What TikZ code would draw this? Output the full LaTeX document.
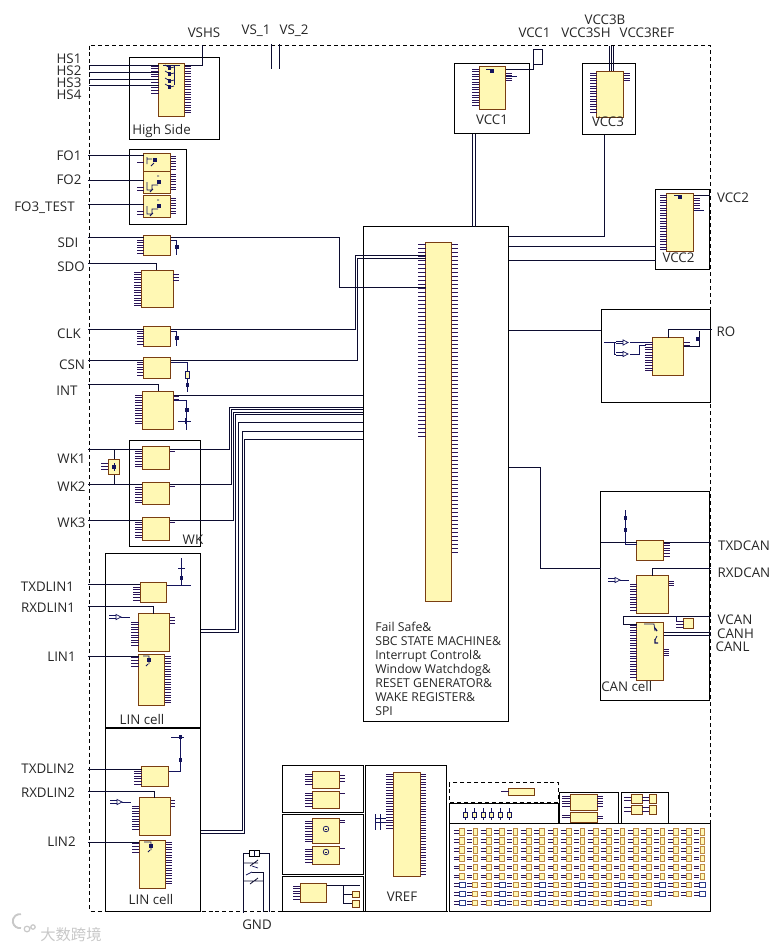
\documentclass[tikz,border=0pt]{standalone}
\usepackage{fontspec}
\setmainfont{Open Sans}
\newfontfamily\cjkwm{Noto Sans CJK SC}
\definecolor{chipfill}{HTML}{FFF8B4}
\definecolor{chipline}{HTML}{7A3E12}
\definecolor{pinline}{HTML}{2A1458}
\definecolor{sigline}{HTML}{14145C}
\definecolor{wireline}{HTML}{0C0C30}
\definecolor{gridline}{HTML}{BE8A44}
\definecolor{gridblue}{HTML}{2A3C8C}
\definecolor{wmgray}{HTML}{C8C8C8}
% box helpers, x y w h in pixels
\newcommand{\chip}[5]{\node[chipbox, minimum width=#4*0.75pt, minimum height=#5*0.75pt] (#1) at (#2,#3) {};}
\newcommand{\cellbox}[5]{\node[cell, minimum width=#4*0.75pt, minimum height=#5*0.75pt] (#1) at (#2,#3) {};}
% comb of pins, x1 x2 then first, second, last y
\newcommand{\pins}[5]{\foreach \py in {#3,#4,...,#5} \draw[pin] (#1,\py) -- (#2,\py);}
% small switch mark
\newcommand{\swmark}[2]{\fill[sigline] (#1-1.7,#2-1.7) rectangle (#1+1.7,#2+1.7);}
% input buffer
\newcommand{\bufmark}[2]{\draw[sig] (#1,#2-1.2) -- ++(7,0) (#1,#2+1.2) -- ++(7,0);
  \draw[sig, fill=white] (#1+7,#2-2.6) -- (#1+12,#2) -- (#1+7,#2+2.6) -- cycle;
  \draw[sig] (#1+12,#2) -- ++(9,0);}
\begin{document}
\begin{tikzpicture}[
  x=0.75pt, y=-0.75pt,
  cell/.style={draw=black, line width=0.75pt, anchor=north west, inner sep=0pt, outer sep=0pt},
  chipbox/.style={draw=chipline, fill=chipfill, line width=0.65pt, anchor=north west, inner sep=0pt, outer sep=0pt},
  pin/.style={pinline, line width=0.55pt},
  sig/.style={sigline, line width=0.55pt},
  wire/.style={wireline, line width=0.75pt},
  lbl/.style={font=\fontsize{10}{12}\selectfont, text=black!85, inner sep=0pt},
  frame/.style={draw=black, line width=0.75pt, dash pattern=on 3pt off 2.2pt}
]
\useasboundingbox (0,0) rectangle (783,950);

% === Outer frame ===
\draw[frame] (89.5,45.5) rectangle (710.5,911);

% === Supply labels on top ===
\node[lbl] (tVSHS) at (204,33) {VSHS};
\node[lbl] (tVSa) at (256,31) {VS\_1};
\node[lbl] (tVSb) at (294,31) {VS\_2};
\node[lbl] (tVCCa) at (534.5,33) {VCC1};
\node[lbl] (tVCCcB) at (605,20) {VCC3B};
\node[lbl] (tVCCcS) at (586,32.5) {VCC3SH};
\node[lbl] (tVCCcR) at (647,33) {VCC3REF};
\coordinate (pVSa) at (271.5,44);
\coordinate (pVSb) at (279,44);
\draw[wire] (pVSa) -- ++(0,24.5);
\draw[wire] (pVSb) -- ++(0,24.5);

% === High side ===
\cellbox{HSbox}{129.3}{57.5}{90}{81.5}
\chip{HSchip}{158.5}{63.5}{26}{53}
\pins{151}{158.5}{66}{68.7}{93}
\pins{184.5}{191}{66}{68.6}{115}
\node[lbl] (tHSa) at (69,59) {HS1};
\node[lbl] (tHSb) at (69,71) {HS2};
\node[lbl] (tHSc) at (69,83) {HS3};
\node[lbl] (tHSd) at (69,95) {HS4};
\foreach \nm/\ny in {pHSa/65.5, pHSb/72, pHSc/79, pHSd/85.5} {
  \coordinate (\nm) at (89,\ny);
  \draw[wire] (\nm) -- (\nm -| HSchip.west);
}
\coordinate (pVSHS) at (202.5,45);
\draw[wire] (pVSHS) -- (202.5,65.5) -- (HSchip.east |- 0,65.5);
\draw[sig] (180,65) -- (163,65) (174,65) -- (174,85);
\foreach \my in {68,74,81,87} {
  \draw[sig] (165,\my-3) -- (170,\my) -- (174,\my-1);
  \swmark{169.5}{\my}
}
\node[lbl, anchor=west] (tHSbox) at (132,131) {High Side};

% === FO outputs ===
\cellbox{FObox}{129.3}{149.5}{57.2}{75}
\chip{FOa}{143.5}{153.5}{27}{18}
\chip{FOb}{143.5}{171.5}{27}{22}
\chip{FOc}{143.5}{195}{27}{22.5}
\pins{170.5}{176}{156}{158.6}{170}
\pins{170.5}{176}{174}{176.6}{191}
\pins{170.5}{176}{198}{200.6}{216}
\draw[pin] (137,162.5) -- (143.5,162.5) (137,187) -- (143.5,187) (137,190) -- (143.5,190);
\draw[pin] (137,211) -- (143.5,211) (137,214) -- (143.5,214);
\node[lbl] (tFOa) at (69,156) {FO1};
\node[lbl] (tFOb) at (69,180) {FO2};
\node[lbl] (tFOc) at (44.5,208) {FO3\_TEST};
\foreach \nm/\ny/\tg in {pFOa/155.5/FOa, pFOb/180.5/FOb, pFOc/204.5/FOc} {
  \coordinate (\nm) at (88,\ny);
  \draw[wire] (\nm) -- (\nm -| \tg.west);
}
\draw[sig] (147,157) -- (147,164) (147,159) -- (152,159) (151,166) -- (154,163);
\swmark{155}{160}
\foreach \my in {182,206} {
  \draw[sig] (147,\my) -- (147,\my+8) -- (152,\my+8) -- (152,\my+3) -- (158,\my+3) (150,\my+10) -- (153,\my+7) (157,\my-6) -- (159,\my-6);
  \swmark{159}{\my}
}

% === SPI pins ===
\chip{SDIchip}{143.5}{235.5}{27}{20}
\pins{137}{143.5}{240}{242.6}{254}
\node[lbl] (tSDI) at (68,243) {SDI};
\coordinate (pSDI) at (88,237.5);
\draw[wire] (pSDI) -- (pSDI -| SDIchip.west);
\draw[sig] (170.5,240) -- (176,240) -- (176,255);
\swmark{177}{247}
\chip{SDOchip}{141}{270}{32}{37.5}
\pins{134}{141}{272}{274.6}{307}
\pins{173}{179}{274}{277}{280}
\node[lbl] (tSDO) at (71,267) {SDO};
\coordinate (pSDO) at (88,263);
\draw[wire] (pSDO) -- (156.5,263) -- (156.5,0 |- SDOchip.north);
\chip{CLKchip}{143.5}{326.5}{27}{20}
\pins{137}{143.5}{331}{333.6}{345}
\node[lbl] (tCLK) at (69,334) {CLK};
\coordinate (pCLK) at (88,329.5);
\draw[wire] (pCLK) -- (pCLK -| CLKchip.west);
\draw[sig] (170.5,331) -- (176,331) -- (176,346);
\swmark{177}{338}
\chip{CSNchip}{143}{357.5}{27.5}{20.5}
\pins{137}{143}{362}{364.6}{377}
\node[lbl] (tCSN) at (72,365) {CSN};
\coordinate (pCSN) at (88,360.5);
\draw[wire] (pCSN) -- (pCSN -| CSNchip.west);
\draw[sig] (170.5,362) -- (187.5,362) -- (187.5,371);
\draw[sig, fill=chipfill] (185.5,371) rectangle (189.5,378);
\draw[sig] (187.5,378) -- (187.5,392);
\swmark{187.5}{385}
\chip{INTchip}{142}{391}{31.5}{38.5}
\pins{135}{142}{395}{397.6}{425}
\pins{173.5}{179}{396}{399}{399}
\node[lbl] (tINT) at (67,391) {INT};
\coordinate (pINT) at (88,384.5);
\draw[wire] (pINT) -- (158,384.5) -- (158,0 |- INTchip.north);
\draw[sig] (173.5,400) -- (186,400) -- (186,430);
\draw[sig] (178,421) -- (191,421) (185,418) -- (185,424);
\swmark{187}{410}

% === Wake inputs ===
\cellbox{WKbox}{129.3}{440.5}{71.2}{106}
\chip{WKa}{142}{446.5}{27.5}{23}
\chip{WKb}{142}{482}{27.5}{22.5}
\chip{WKc}{142}{517.5}{27.5}{23}
\pins{135}{142}{451}{453.6}{467}
\pins{135}{142}{487}{489.6}{503}
\pins{135}{142}{522}{524.6}{538}
\draw[pin] (170,451) -- (175,451) (170,486) -- (175,486) (170,522) -- (175,522);
\node[lbl] (tWKa) at (71.5,459) {WK1};
\node[lbl] (tWKb) at (71.5,487) {WK2};
\node[lbl] (tWKc) at (71.5,523) {WK3};
\node[lbl] (tWK) at (193,540) {WK};
\coordinate (pWKa) at (88,449.5);
\coordinate (pWKb) at (88,484);
\coordinate (pWKc) at (88,520.5);
\chip{ESDchip}{108}{459}{11.5}{15.5}
\pins{101}{108}{463}{466}{470}
\draw[wire] (114.5,449.5) -- (ESDchip.north -| 114.5,0);
\draw[wire] (ESDchip.south -| 114.5,0) -- (114.5,484);
\draw[sig] (114,463) -- (114,471);
\swmark{114}{467}

% === Main block ===
\cellbox{MainBox}{363}{226.5}{145.5}{494.5}
\chip{MainChip}{425.5}{242}{26}{359.5}
\pins{418}{425.5}{244}{248}{437}
\pins{451.5}{458}{244}{248}{553}
\node[lbl, anchor=north west, align=left, font=\fontsize{9.2}{10.5}\selectfont] (tMain) at (375,622) {Fail Safe\&\\SBC STATE MACHINE\&\\Interrupt Control\&\\Window Watchdog\&\\RESET GENERATOR\&\\WAKE REGISTER\&\\SPI};

% === Wires into the main block ===
\draw[wire] (SDIchip.east |- pSDI) -- (339.5,237.5) -- (339.5,287.5) -- (MainChip.west |- 0,287.5);
\draw[wire] (CLKchip.east |- pCLK) -- (355,329.5) -- (355,255) -- (MainChip.west |- 0,255);
\draw[wire] (CSNchip.east |- pCSN) -- (357,360.5) -- (357,258) -- (MainChip.west |- 0,258);
\draw[wire] (INTchip.east |- 0,395.5) -- (MainBox.west |- 0,395.5);
\draw[wire] (pWKa) -- (pWKa -| WKa.west);
\draw[wire] (pWKb) -- (pWKb -| WKb.west);
\draw[wire] (pWKc) -- (pWKc -| WKc.west);
\draw[wire] (WKa.east |- pWKa) -- (229.5,449.5) -- (229.5,407.5) -- (MainBox.west |- 0,407.5);
\draw[wire] (WKb.east |- pWKb) -- (231.5,484) -- (231.5,409.5) -- (MainBox.west |- 0,409.5);
\draw[wire] (WKc.east |- pWKc) -- (233.5,520.5) -- (233.5,412.5) -- (MainBox.west |- 0,412.5);

% === LIN cell 1 ===
\cellbox{LINa}{105.5}{553.5}{95}{174}
\chip{TXa}{140}{582.5}{26.5}{19.5}
\pins{133}{140}{587}{589.6}{601}
\chip{RXa}{138.5}{613.5}{31}{38}
\pins{131}{138.5}{622}{624.6}{647}
\pins{170}{175}{617}{620}{623}
\chip{DRVa}{138.5}{654.5}{26}{51}
\pins{131}{138.5}{657}{660}{668}
\pins{165}{171}{656}{658.6}{704}
\node[lbl] (tTXa) at (47.5,587) {TXDLIN1};
\node[lbl] (tRXa) at (48,608) {RXDLIN1};
\node[lbl] (tLINa) at (61.5,657) {LIN1};
\node[lbl] (tCella) at (142,719) {LIN cell};
\coordinate (pTXa) at (88,584.5);
\coordinate (pRXa) at (88,606.5);
\coordinate (pLINa) at (88,656.5);
\draw[wire] (pTXa) -- (pTXa -| TXa.west);
\draw[wire] (pRXa) -- (153.5,606.5) -- (153.5,0 |- RXa.north);
\draw[wire] (pLINa) -- (pLINa -| DRVa.west);
\draw[sig] (TXa.east |- 0,585) -- (191,585) (181.5,558) -- (181.5,585);
\swmark{181.5}{578}
\draw[sig] (178,568) -- (185,568);
\bufmark{109}{617}
\draw[sig] (143,656) -- (149,656) -- (149,664) (146,666) -- (148,664);
\swmark{149}{660}
\draw[wire] (LINa.east |- 0,629) -- (235.5,629) -- (235.5,414.5) -- (MainBox.west |- 0,414.5);
\draw[wire] (LINa.east |- 0,632.3) -- (238.5,632.3) -- (238.5,422.5) -- (MainBox.west |- 0,422.5);

% === LIN cell 2 ===
\cellbox{LINb}{105.5}{728}{95}{183}
\chip{TXb}{141.5}{766.5}{27}{20}
\pins{134}{141.5}{771}{773.6}{785}
\chip{RXb}{139}{797.5}{31.5}{38}
\pins{132}{139}{806}{808.6}{831}
\pins{171}{175}{800}{803}{806}
\chip{DRVb}{139}{840.5}{26.5}{48}
\pins{132}{139}{843}{846}{853}
\pins{166}{172}{842}{844.6}{885}
\node[lbl] (tTXb) at (48,769) {TXDLIN2};
\node[lbl] (tRXb) at (48,793) {RXDLIN2};
\node[lbl] (tLINb) at (61.5,842) {LIN2};
\node[lbl] (tCellb) at (151,899) {LIN cell};
\coordinate (pTXb) at (88,769);
\coordinate (pRXb) at (88,791.5);
\coordinate (pLINb) at (88,842.5);
\draw[wire] (pTXb) -- (pTXb -| TXb.west);
\draw[wire] (pRXb) -- (154.5,791.5) -- (154.5,0 |- RXb.north);
\draw[wire] (pLINb) -- (pLINb -| DRVb.west);
\draw[sig] (TXb.east |- 0,771) -- (180.5,771) -- (180.5,737) (171,737) -- (184,737);
\swmark{180.5}{737}
\swmark{180.5}{760}
\bufmark{110}{802}
\draw[sig] (144,842) -- (151,842) -- (151,850) (148,852) -- (150,850);
\swmark{151}{846}
\draw[wire] (LINb.east |- 0,830) -- (242.5,830) -- (242.5,431.5) -- (MainBox.west |- 0,431.5);
\draw[wire] (LINb.east |- 0,833.3) -- (244.5,833.3) -- (244.5,439.5) -- (MainBox.west |- 0,439.5);

% === VCC regulators ===
\cellbox{VCCaBox}{454.5}{63.5}{75}{70}
\chip{VCCaChip}{479}{66.5}{26.5}{43}
\pins{472}{479}{69}{71.6}{106}
\pins{505.5}{512}{73}{75.6}{82}
\draw[sig] (505.5,76) -- (517,76);
\node[lbl] (tVCCaBox) at (492,120) {VCC1};
\draw[wire] (VCCaChip.east |- 0,69.5) -- (533.7,69.5) -- (533.7,49.5) -- (542.7,49.5) -- (542.7,64.5) -- (533.7,64.5);
\swmark{492}{71}
\draw[sig] (486,69) -- (491,69);
\draw[wire] (472.5,133.5) -- (472.5,226.5);
\draw[wire] (475.2,133.5) -- (475.2,226.5);
\cellbox{VCCcBox}{582.5}{63.5}{53}{71}
\chip{VCCcChip}{596.5}{71}{27}{46}
\pins{590}{596.5}{73}{75.6}{114}
\pins{623.5}{630}{73}{75.6}{81}
\node[lbl] (tVCCcBox) at (608,122) {VCC3};
\foreach \wx in {609,611,613} { \draw[wire, line width=0.6pt] (\wx,46) -- (\wx,71); }
\draw[wire] (604.5,134.5) -- (604.5,236.5) -- (MainBox.east |- 0,236.5);
\cellbox{VCCbBox}{655.5}{189.5}{53.5}{80}
\chip{VCCbChip}{666.5}{193}{27}{58.5}
\pins{660}{666.5}{195}{197.6}{250}
\pins{693.5}{700}{198}{200.6}{210}
\draw[sig] (693.5,210.5) -- (704,210.5);
\node[lbl] (tVCCbBox) at (678.5,258) {VCC2};
\node[lbl] (tVCCb) at (733,198) {VCC2};
\draw[wire] (VCCbChip.east |- 0,195.5) -- (710,195.5);
\swmark{680}{197}
\draw[sig] (674,195) -- (679,195);
\draw[wire] (MainBox.east |- 0,246.5) -- (VCCbBox.west |- 0,246.5);
\draw[wire] (MainBox.east |- 0,260.5) -- (VCCbBox.west |- 0,260.5);

% === RO block ===
\cellbox{ROBox}{601}{309}{109.5}{93}
\chip{ROChip}{652.5}{337.5}{31}{38}
\pins{645}{652.5}{342}{344.6}{372}
\pins{683.5}{690}{342}{345}{345}
\node[lbl] (tRO) at (726,332) {RO};
\draw[wire] (668,337.5) -- (668,329) -- (712,329);
\draw[wire] (683.5,346.5) -- (699,346.5) -- (699,331);
\swmark{698}{339}
\draw[wire] (MainBox.east |- 0,330) -- (ROBox.west |- 0,330);
\draw[sig] (604,342.5) -- (616,342.5) (630,342.5) -- (650,342.5) (614,342.5) -- (614,354) -- (616,354) (630,354) -- (639,354) -- (639,345) -- (646,345);
\foreach \by in {342.5,354} {
  \draw[sig] (616,\by-1.2) -- (623,\by-1.2) (616,\by+1.2) -- (623,\by+1.2);
  \draw[sig, fill=white] (623,\by-2.6) -- (628,\by) -- (623,\by+2.6) -- cycle;
}

% === CAN cell ===
\cellbox{CANBox}{600.5}{491.5}{109}{209}
\chip{TXCAN}{636.5}{540}{27}{20.5}
\pins{663.5}{670}{543}{545.6}{558}
\chip{RXCAN}{636.5}{575.5}{32}{38}
\pins{630}{636.5}{584}{586.6}{611}
\pins{668.5}{673.5}{581}{583}{585}
\chip{DRVCAN}{636.5}{622.5}{27}{57.5}
\pins{630}{636.5}{625}{627.6}{678}
\pins{663.5}{669}{649}{651}{655}
\chip{VCANchip}{683.5}{618.5}{9.5}{9.5}
\pins{676}{683.5}{621}{624}{627}
\node[lbl] (tTXCAN) at (744,546) {TXDCAN};
\node[lbl] (tRXCAN) at (744,573) {RXDCAN};
\node[lbl] (tVCAN) at (735,620) {VCAN};
\node[lbl] (tCANH) at (735.5,634) {CANH};
\node[lbl] (tCANL) at (732.5,647) {CANL};
\node[lbl, anchor=west] (tCANcell) at (601,686) {CAN cell};
\draw[wire] (CANBox.west |- 0,542.5) -- (TXCAN.west |- 0,542.5);
\draw[wire] (TXCAN.east |- 0,542.5) -- (711,542.5);
\draw[wire] (652.5,575.5) -- (652.5,568) -- (711,568);
\draw[wire] (711,616) -- (623,616) -- (623,624) -- (DRVCAN.west |- 0,624);
\draw[sig] (676,616) -- (676,621);
\draw[wire] (DRVCAN.east |- 0,632) -- (711,632);
\draw[wire] (DRVCAN.east |- 0,635) -- (711,635);
\draw[wire] (MainBox.east |- 0,467.5) -- (540,467.5) -- (540,568) -- (CANBox.west |- 0,568);
\draw[sig] (625.5,510) -- (625.5,544) -- (636.5,544);
\swmark{625.5}{518}
\swmark{625.5}{530}
\bufmark{608}{580}
\draw[sig] (644,624) -- (654,624) -- (655,631) (655,640) -- (657,636);
\draw[sig, line width=1pt] (655,628) -- (657,631) (655,639) -- (655,643) -- (658,643);

% === Ground pins ===
\node[lbl] (tGND) at (257,925) {GND};
\node[draw=black, line width=0.6pt, inner sep=0pt, minimum width=8pt, minimum height=5pt] (GNDxtal) at (254.5,853.5) {};
\draw[wire, line width=0.6pt] (GNDxtal.west) -- (243,853.5) -- (243,913);
\draw[wire, line width=0.6pt] (GNDxtal.east) -- (269.5,853.5) -- (269.5,912);
\draw[wire, line width=0.6pt] (254.5,850) -- (254.5,857);
\draw[wire, line width=0.6pt] (263.5,872) -- (263.5,912) (252,872) -- (263.5,872);
\draw[wire, line width=0.6pt] (243,863) -- (258,863) (250,866) -- (258,860) (243,881) -- (263,881) (250,884) -- (258,878);
\draw[sig] (246,875) -- (252,872) (252,866) -- (258,868);

% === Bottom row, left boxes ===
\cellbox{BoxA}{282.5}{765.5}{81}{47}
\chip{BoxAa}{312.5}{771.5}{27}{17}
\chip{BoxAb}{312.5}{791}{27}{17.5}
\pins{305}{312.5}{774}{776.6}{787}
\pins{305}{312.5}{793}{795.6}{807}
\pins{340}{345}{775}{778}{781}
\draw[pin] (340,793.5) -- (345,793.5);
\cellbox{BoxB}{282.5}{814}{81}{60}
\chip{BoxBa}{312.5}{818.5}{27}{25}
\chip{BoxBb}{312.5}{846.5}{27}{18}
\pins{305}{312.5}{821}{823.6}{842}
\pins{305}{312.5}{849}{851.6}{863}
\pins{340}{345}{820}{822.6}{824}
\draw[pin] (340,848.5) -- (345,848.5);
\foreach \cy in {829,852} {
  \draw[sig] (326,\cy) circle (2.8);
  \draw[sig] (325,\cy) -- (327,\cy);
}
\cellbox{BoxC}{282.5}{876}{81}{35}
\chip{BoxCa}{300}{883}{26.5}{19}
\pins{293}{300}{886}{888.6}{900}
\draw[wire, line width=0.6pt] (BoxCa.east |- 0,885.5) -- (359.5,885.5) (343,885.5) -- (343,903) (343,894.5) -- (352,894.5) (343,903) -- (352,903);
\chip{BoxCb}{352}{891}{7.5}{6.5}
\chip{BoxCc}{352}{900}{7.5}{7}

% === VREF ===
\cellbox{VREFbox}{365.5}{765.5}{81}{145.5}
\chip{VREFchip}{393}{772.5}{27.5}{104}
\pins{386}{393}{774}{776.7}{828}
\pins{420.5}{426}{774}{776.7}{875}
\draw[sig] (375,814) -- (375,830) (380,814) -- (380,830) (375,818) -- (386,818) (375,822) -- (386,822);
\node[lbl] (tVREF) at (402,897) {VREF};

% === Bottom row, right boxes ===
\draw[frame] (449,782.5) rectangle (558.5,802);
\chip{SenseChip}{508.5}{788}{26}{7.5}
\draw[pin] (501,791) -- (508.5,791);
\cellbox{ResBox}{449}{803}{109.5}{20.5}
\foreach \rx in {465,474,483,491,500,509} {
  \draw[sig] (\rx,808) -- (\rx,820);
  \draw[sig, fill=chipfill] (\rx-2,812) rectangle (\rx+2,817);
}
\cellbox{RegBox}{559.5}{792.5}{59}{31}
\chip{RegA}{570}{794.5}{27}{16}
\chip{RegB}{570}{812.5}{27}{9.5}
\pins{562}{570}{796}{798.6}{809}
\pins{597}{603}{796}{798.6}{809}
\pins{562}{570}{815}{817.6}{820}
\pins{597}{603}{816}{818.6}{818}
\cellbox{SmallBox}{621.5}{792.5}{47}{31}
\foreach \sx/\sw in {631/11.5,649/7.5} {
  \foreach \sy/\sh in {794.5/9,805/9.5} {
    \draw[chipline, fill=chipfill, line width=0.65pt] (\sx,\sy) rectangle ++(\sw,\sh);
    \draw[pin] (\sx-7,\sy+2.5) -- (\sx,\sy+2.5) (\sx-7,\sy+6) -- (\sx,\sy+6);
  }
}

% === Large array ===
\cellbox{GridBox}{449}{823.5}{261}{87.5}
\foreach \ry [count=\rn from 1] in {832,840.8,849.7,858.4,867.3,876.3,885,894,902.7} {
  \foreach \cn in {0,...,18} {
    \pgfmathsetmacro{\cx}{462+13.36*\cn}
    \pgfmathtruncatemacro{\isblue}{(\rn>6 && mod(\cn,3)==0) ? 1 : 0}
    \pgfmathtruncatemacro{\isgone}{(\rn==9 && \cn>14) ? 1 : 0}
    \ifnum\isgone=0
      \draw[pin] (\cx-8,\ry-1.3) -- (\cx-3,\ry-1.3) (\cx-8,\ry+1.3) -- (\cx-3,\ry+1.3);
      \ifnum\isblue=1
        \draw[gridblue, fill=white, line width=0.6pt] (\cx-3,\ry-2.7) rectangle (\cx+3,\ry+2.7);
      \else
        \ifnum\rn>6
          \draw[gridline, fill=chipfill, line width=0.6pt] (\cx-2.5,\ry-2.8) rectangle (\cx+2.5,\ry+2.8);
        \else
          \draw[gridline, fill=chipfill, line width=0.6pt] (\cx-2.3,\ry-3.4) rectangle (\cx+2.3,\ry+3.4);
        \fi
      \fi
    \fi
  }
}

% === Corner mark ===
\node[font=\cjkwm\fontsize{11.5}{13}\selectfont, text=wmgray, inner sep=0pt] (tMark) at (71,935) {大数跨境};
\draw[wmgray, line width=1.4pt] (21,928) arc[start angle=80, end angle=280, radius=7];
\draw[wmgray, line width=0.9pt] (27,929) circle (2.8) (33,927) circle (2.2);

\end{tikzpicture}
\end{document}
